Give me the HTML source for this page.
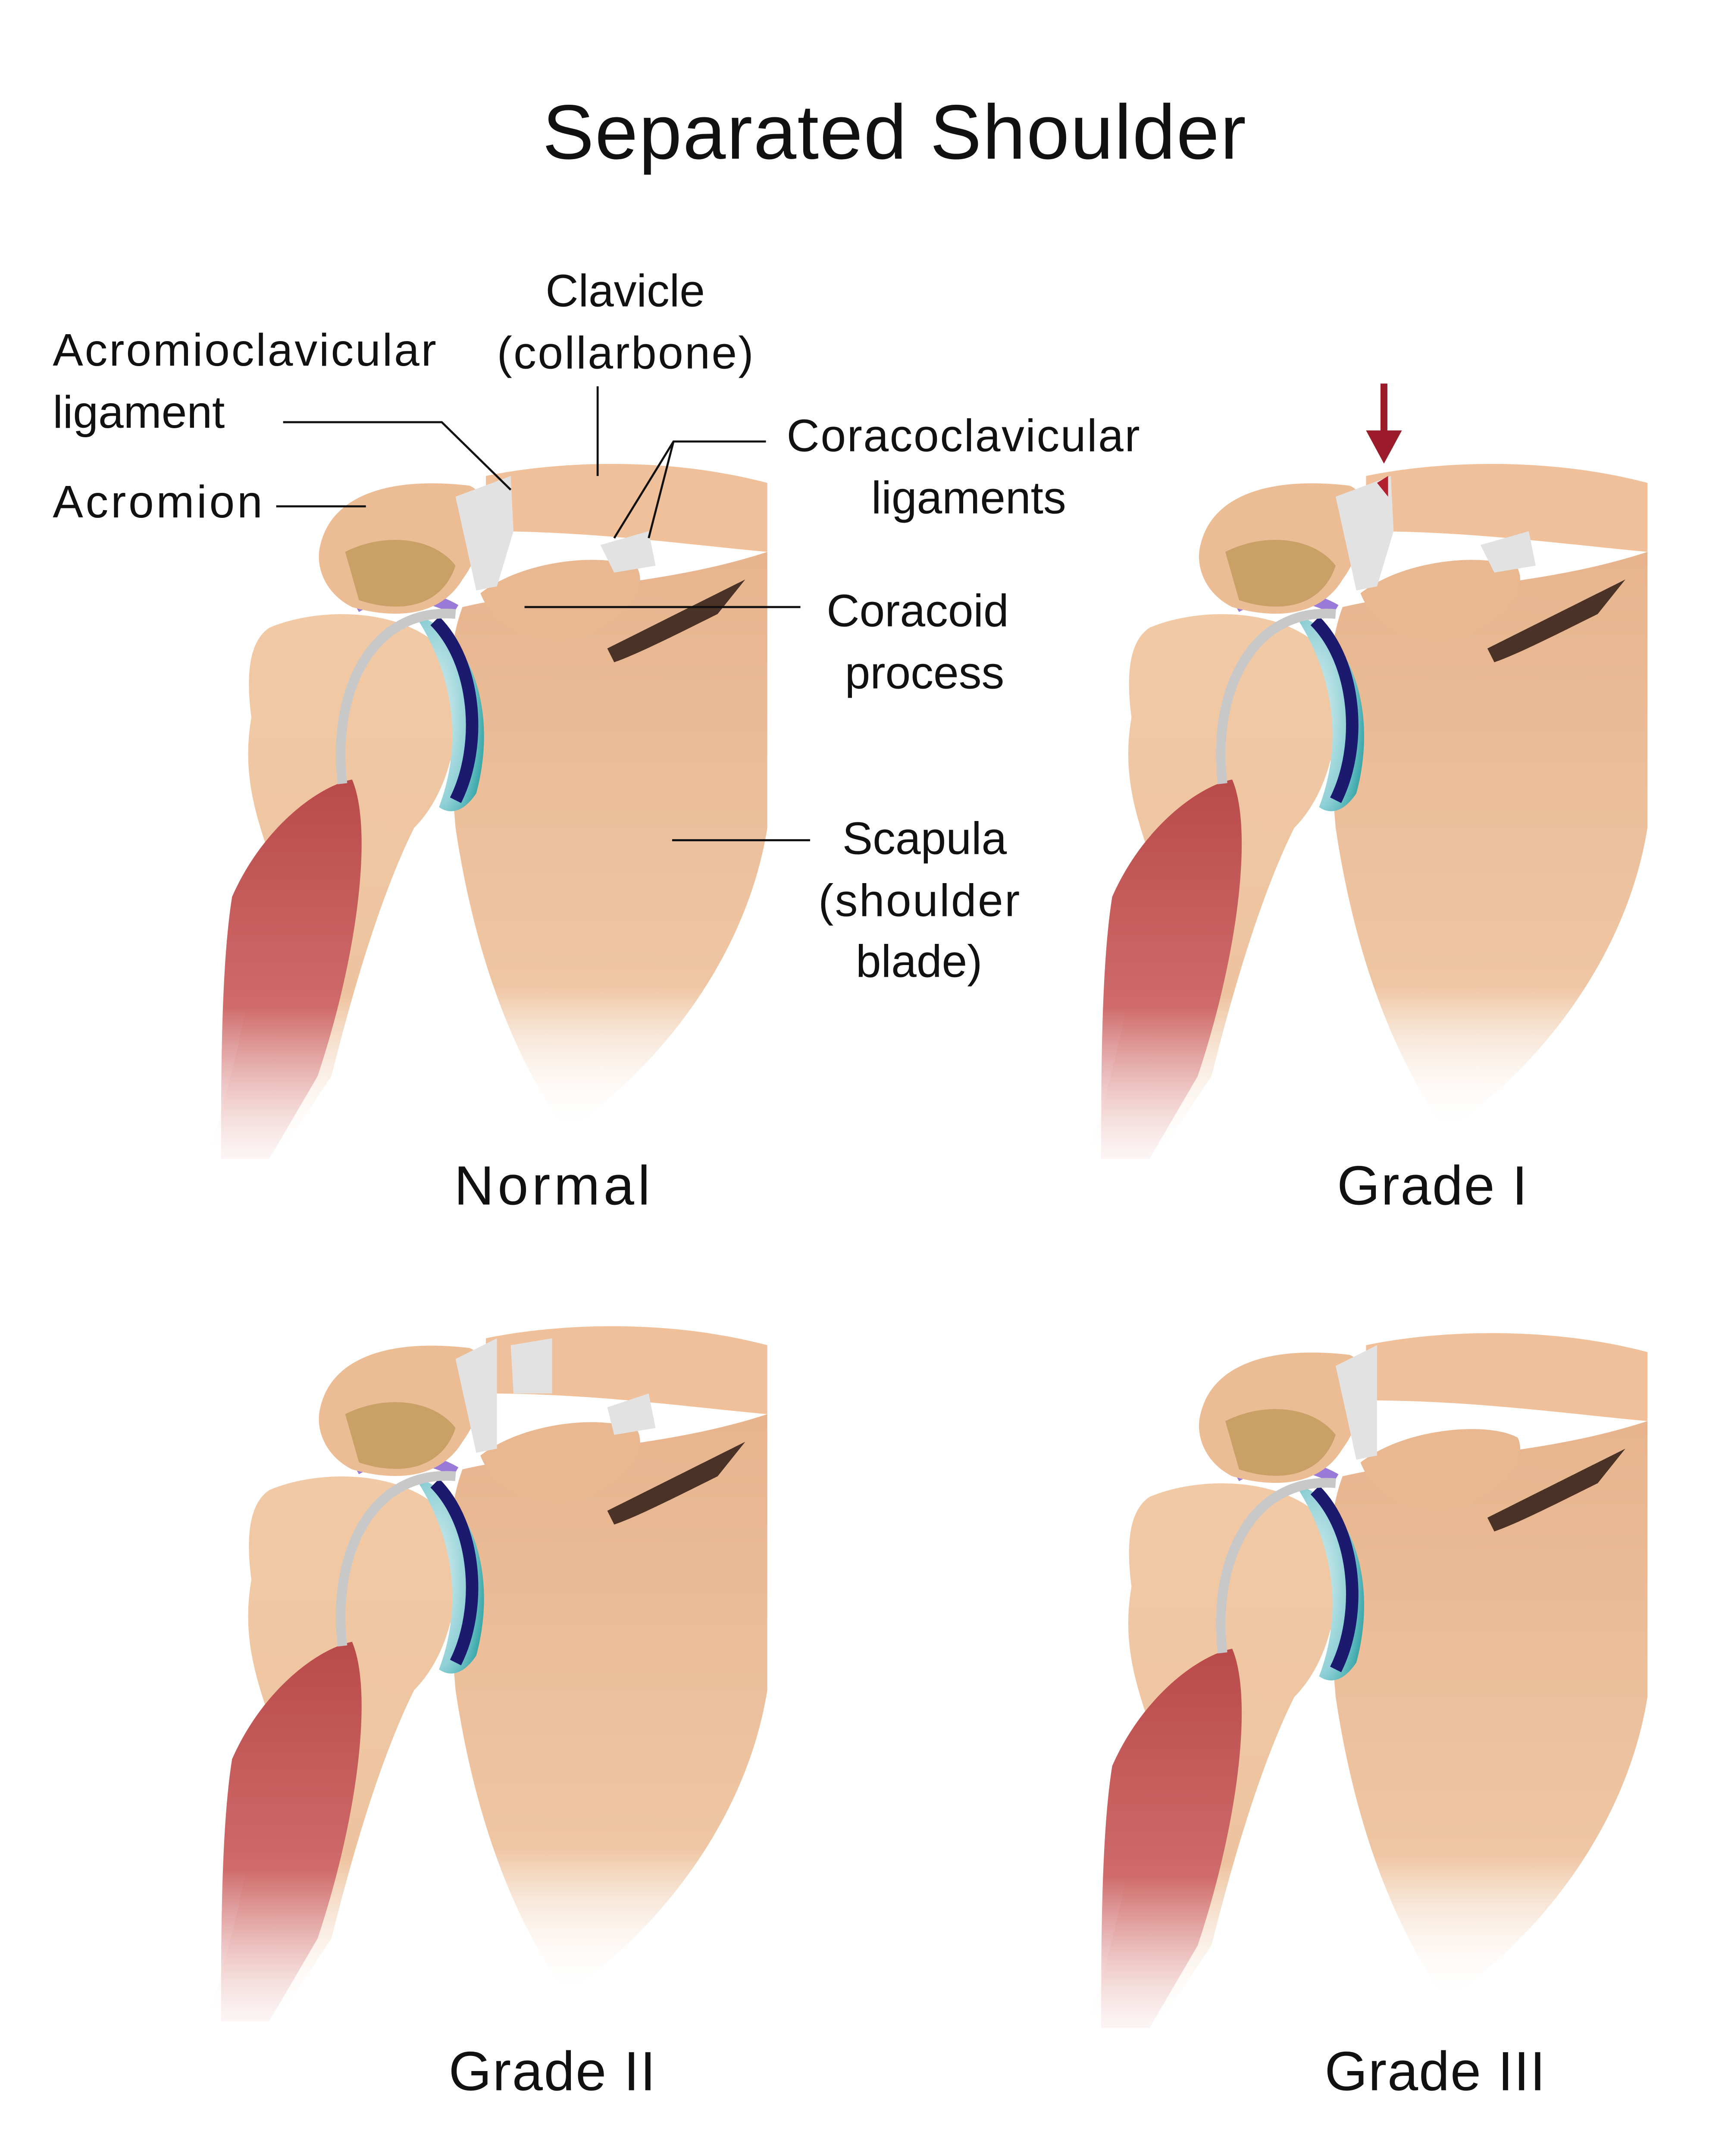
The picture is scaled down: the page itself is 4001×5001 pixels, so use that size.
<!DOCTYPE html>
<html><head><meta charset="utf-8"><style>
html,body{margin:0;padding:0;background:#fff;width:4001px;height:5001px;overflow:hidden;}
svg{display:block;}
text{font-family:"Liberation Sans",sans-serif;fill:#111;}
</style></head><body>
<svg width="4001" height="5001" viewBox="0 0 1250 1563" xmlns="http://www.w3.org/2000/svg">
<defs>
<linearGradient id="scap" x1="0" y1="0" x2="0" y2="1">
<stop offset="0" stop-color="#e7b48d"/><stop offset="0.75" stop-color="#efc6a4"/><stop offset="1" stop-color="#fff" stop-opacity="0"/>
</linearGradient>
<linearGradient id="hum" x1="0" y1="0" x2="0" y2="1">
<stop offset="0" stop-color="#f1c9a5"/><stop offset="0.7" stop-color="#eec4a0"/><stop offset="1" stop-color="#fff" stop-opacity="0"/>
</linearGradient>
<linearGradient id="mus" x1="0" y1="0" x2="0" y2="1">
<stop offset="0" stop-color="#b94a4a"/><stop offset="0.6" stop-color="#cf6b6b"/><stop offset="1" stop-color="#f6dede" stop-opacity="0.3"/>
</linearGradient>
<radialGradient id="cart" cx="0.3" cy="0.5" r="0.8">
<stop offset="0" stop-color="#dff1f3"/><stop offset="0.6" stop-color="#8fd0d6"/><stop offset="1" stop-color="#1c9a9a"/>
</radialGradient>
<g id="base">
<path d="M335,440 C400,425 480,425 556,400 L556,600 C540,700 470,780 410,820 C375,770 345,700 330,600 C325,540 320,480 335,440 Z" fill="url(#scap)"/>
<path d="M440,470 C470,455 500,440 540,420 L520,445 C490,460 460,475 445,480Z" fill="#4a3226"/>
<path d="M195,455 C230,440 290,440 320,470 C340,510 330,570 300,600 C280,640 260,700 240,780 L200,840 L150,840 C175,760 190,680 195,620 C185,590 175,560 182,520 C178,490 180,465 195,455Z" fill="url(#hum)"/>
<path d="M300,445 C345,460 360,520 345,575 C335,590 325,590 318,585 C335,540 330,490 300,445Z" fill="url(#cart)"/>
<path d="M315,450 C345,480 350,540 330,580" stroke="#1c1a6e" stroke-width="9" fill="none"/>
<path d="M258,440 C280,428 310,430 330,442" stroke="#9a7ad8" stroke-width="8" fill="none"/>
<path d="M168,650 C190,600 230,570 255,565 C270,600 260,690 230,780 L195,840 L160,840 C160,780 160,700 168,650Z" fill="url(#mus)"/>
<path d="M248,568 C240,500 270,440 330,445" stroke="#c8c8c8" stroke-width="7" fill="none"/>
<path d="M232,395 C240,360 280,345 340,352 C360,360 350,400 335,420 C320,445 290,450 255,440 C235,430 228,410 232,395Z" fill="#ecbd95"/>
<path d="M250,400 C280,385 315,390 330,410 C320,440 290,445 260,435 Z" fill="#c9a066"/>
<path d="M352,345 C400,335 480,330 556,350 L556,400 C500,395 430,385 352,385 Z" fill="#efc09a"/>
<path d="M348,430 C380,405 440,400 462,412 C470,430 450,450 420,462 C390,466 360,460 348,430Z" fill="#eab890"/>
</g>
<g id="lig-normal">
<path d="M330,360 L370,345 L372,385 L360,425 L345,428 Z" fill="#e2e2e2"/>
<path d="M435,395 L470,385 L475,410 L445,415Z" fill="#e2e2e2"/>
</g>
</defs>

<text x="648" y="115" font-size="56" text-anchor="middle" textLength="510">Separated Shoulder</text>

<use href="#base"/><use href="#lig-normal"/>
<g transform="translate(638,0)"><use href="#base"/><use href="#lig-normal"/>
<path d="M360,350 L368,345 L368,360 Z" fill="#b02030"/></g>
<g transform="translate(0,625)"><use href="#base"/>
<path d="M330,360 L360,345 L360,425 L345,428Z" fill="#e2e2e2"/>
<path d="M370,350 L400,345 L400,385 L372,385Z" fill="#e2e2e2"/>
<path d="M440,395 L470,385 L475,410 L445,415Z" fill="#e2e2e2"/></g>
<g transform="translate(638,630)"><use href="#base"/>
<path d="M330,360 L360,345 L360,425 L345,428Z" fill="#e2e2e2"/></g>

<line x1="1003" y1="278" x2="1003" y2="315" stroke="#9b1b2a" stroke-width="5"/>
<path d="M990,312 L1016,312 L1003,336Z" fill="#9b1b2a"/>

<g font-size="33">
<text x="38" y="265" textLength="278">Acromioclavicular</text>
<text x="38" y="310">ligament</text>
<text x="38" y="375" textLength="152">Acromion</text>
<text x="453" y="222" text-anchor="middle">Clavicle</text>
<text x="453" y="267" text-anchor="middle" textLength="186">(collarbone)</text>
<text x="698" y="327" text-anchor="middle" textLength="256">Coracoclavicular</text>
<text x="702" y="372" text-anchor="middle">ligaments</text>
<text x="665" y="454" text-anchor="middle">Coracoid</text>
<text x="670" y="499" text-anchor="middle">process</text>
<text x="670" y="619" text-anchor="middle">Scapula</text>
<text x="666" y="664" text-anchor="middle" textLength="146">(shoulder</text>
<text x="666" y="708" text-anchor="middle">blade)</text>
</g>
<g font-size="40" text-anchor="middle">
<text x="400" y="873" textLength="142">Normal</text>
<text x="1038" y="873" textLength="138">Grade I</text>
<text x="400" y="1515" textLength="150">Grade II</text>
<text x="1040" y="1515" textLength="160">Grade III</text>
</g>
<g stroke="#111" stroke-width="1.5" fill="none">
<path d="M205,306 L320,306 L370,355"/>
<path d="M200,367 L265,367"/>
<path d="M433,280 L433,345"/>
<path d="M555,320 L488,320 L445,390 M488,320 L470,390"/>
<path d="M380,440 L580,440"/>
<path d="M487,609 L587,609"/>
</g>
</svg>
</body></html>
